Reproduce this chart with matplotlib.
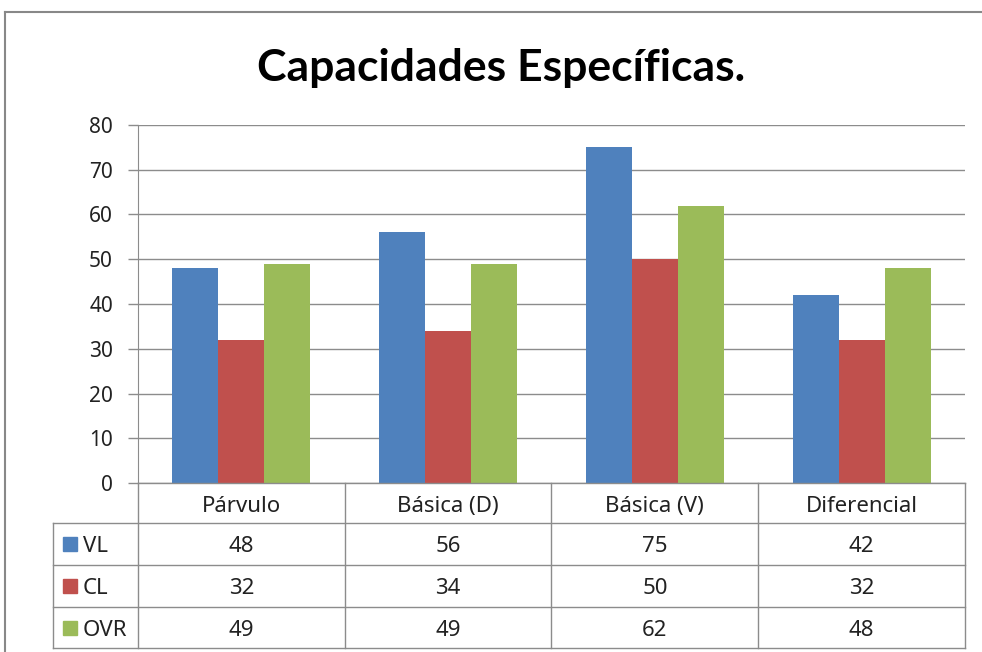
import matplotlib.pyplot as plt
from matplotlib.patches import Rectangle

categories = ["Párvulo", "Básica (D)", "Básica (V)", "Diferencial"]
series_names = ["VL", "CL", "OVR"]
vl = [48, 56, 75, 42]
cl = [32, 34, 50, 32]
ovr = [49, 49, 62, 48]
series = [vl, cl, ovr]
colors = ["#4F81BD", "#C0504D", "#9BBB59"]
yticks = [0, 10, 20, 30, 40, 50, 60, 70, 80]

plt.rcParams['font.family'] = ['Noto Sans', 'DejaVu Sans']
W, H = 982, 652
grid_col = "#8C8C8C"
txt_col = "#222222"

fig = plt.figure(figsize=(W / 100, H / 100), dpi=100)

# pixel layout
px_left, px_right = 138, 965
px_top, px_bottom = 125, 483
tab_left = 53
row_y = [483, 523, 565, 607, 648]

ax = fig.add_axes([px_left / W, 1 - px_bottom / H, (px_right - px_left) / W, (px_bottom - px_top) / H])
n = len(categories)
bw = 0.2225
for i, (vals, c) in enumerate(zip(series, colors)):
    xs = [k + (i - 1) * bw for k in range(n)]
    ax.bar(xs, vals, width=bw, color=c, zorder=3, label=series_names[i])
ax.set_xlim(-0.5, n - 0.5)
ax.set_ylim(0, 80)
ax.set_yticks(yticks)
ax.set_xticks([])
ax.grid(axis='y', color=grid_col, linewidth=1, zorder=0)
for s in ["top", "right", "bottom"]:
    ax.spines[s].set_visible(False)
ax.spines["left"].set_color(grid_col)
ax.tick_params(axis='y', length=7, width=1, color=grid_col, labelsize=15, pad=11, labelcolor=txt_col)

# data table drawn in a pixel-coordinate overlay
tab = fig.add_axes([0, 0, 1, 1], facecolor="none")
tab.set_xlim(0, W)
tab.set_ylim(H, 0)
tab.axis("off")

col_x = [px_left + k * (px_right - px_left) / n for k in range(n + 1)]
lw = 1
tab.plot([px_left, px_right], [row_y[0], row_y[0]], color=grid_col, lw=lw)
for y in row_y[1:]:
    tab.plot([tab_left, px_right], [y, y], color=grid_col, lw=lw)
for x in col_x:
    tab.plot([x, x], [row_y[0], row_y[-1]], color=grid_col, lw=lw)
tab.plot([tab_left, tab_left], [row_y[1], row_y[-1]], color=grid_col, lw=lw)

fs = 16
for k, cat in enumerate(categories):
    cx = (col_x[k] + col_x[k + 1]) / 2
    tab.text(cx, 512, cat, ha='center', va='baseline', fontsize=fs, color=txt_col)
    for r, vals in enumerate(series):
        cy = (row_y[r + 1] + row_y[r + 2]) / 2
        tab.text(cx, cy + 8, str(vals[k]), ha='center', va='baseline', fontsize=fs, color=txt_col)

for r, name in enumerate(series_names):
    cy = (row_y[r + 1] + row_y[r + 2]) / 2
    tab.add_patch(Rectangle((63, cy - 7), 14, 14, color=colors[r]))
    tab.text(83, cy + 8, name, ha='left', va='baseline', fontsize=fs, color=txt_col)

# outer chart border
tab.plot([5, W], [12, 12], color="#888888", lw=1.5)
tab.plot([5, 5], [12, H], color="#888888", lw=1.5)

fig.text(501 / W, 1 - 68 / H, "Capacidades Específicas.", ha='center', va='center',
         fontsize=32, fontweight='bold', color="black", family=['Lato', 'DejaVu Sans'])

fig.savefig("out.png", dpi=100)
